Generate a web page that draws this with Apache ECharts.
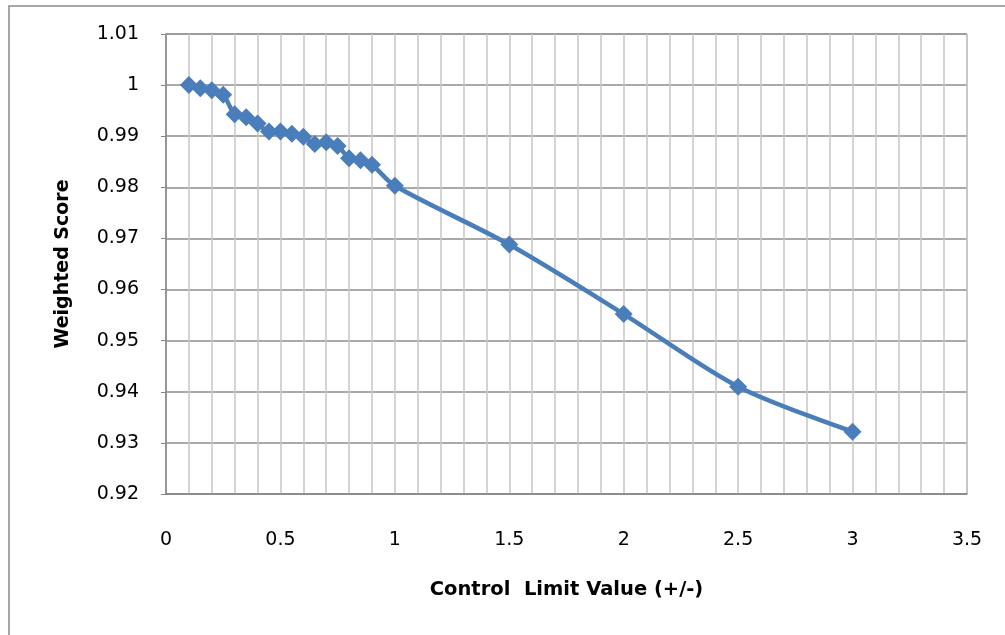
<!DOCTYPE html>
<html>
<head>
<meta charset="utf-8">
<title>Weighted Score vs Control Limit Value</title>
<script src="https://cdn.jsdelivr.net/npm/echarts@6/dist/echarts.min.js"></script>
<style>
  html, body { margin: 0; padding: 0; background: #ffffff; }
  #chart { width: 1005px; height: 635px; }
</style>
</head>
<body>
<div id="chart"></div>
<script>
// Control limit values (+/-) tested
const limits = [0.1, 0.15, 0.2, 0.25, 0.3, 0.35, 0.4, 0.45, 0.5, 0.55, 0.6,
                0.65, 0.7, 0.75, 0.8, 0.85, 0.9, 1.0, 1.5, 2.0, 2.5, 3.0];
// Weighted score obtained at each control limit
const scores = [1.0000, 0.9994, 0.9990, 0.9981, 0.9943, 0.9937, 0.9925, 0.9909,
                0.9909, 0.9905, 0.9899, 0.9885, 0.9888, 0.9881, 0.9857, 0.9853,
                0.9844, 0.9803, 0.9688, 0.9552, 0.9410, 0.9322];

const xTitle = 'Control  Limit Value (+/-)';
const yTitle = 'Weighted Score';

const FONT = '"DejaVu Sans", "Liberation Sans", sans-serif';
const points = limits.map((x, i) => [x, scores[i]]);

const chart = echarts.init(document.getElementById('chart'), null, { renderer: 'canvas' });

chart.setOption({
  backgroundColor: '#ffffff',
  animation: false,
  textStyle: { fontFamily: FONT },
  graphic: [{
    type: 'rect',
    shape: { x: 9, y: 6, width: 1010, height: 650 },
    style: { fill: 'none', stroke: '#8a8a8a', lineWidth: 1.5 },
    silent: true
  }],
  grid: { left: 166, right: 38, top: 34, bottom: 141, show: true, borderColor: '#9a9a9a', borderWidth: 1 },
  xAxis: {
    type: 'value',
    min: 0,
    max: 3.5,
    interval: 0.5,
    name: xTitle,
    nameLocation: 'middle',
    nameGap: 86,
    nameTextStyle: { fontFamily: FONT, fontSize: 19.5, fontWeight: 'bold', color: '#000' },
    axisLine: { show: true, lineStyle: { color: '#868686', width: 1.5 } },
    axisTick: { show: false },
    axisLabel: { margin: 37, fontSize: 19, color: '#000', fontFamily: FONT },
    splitLine: { show: true, lineStyle: { color: '#c6c6c6', width: 1.5 } },
    minorTick: { show: false, splitNumber: 5 },
    minorSplitLine: { show: true, lineStyle: { color: '#c6c6c6', width: 1.5 } }
  },
  yAxis: {
    type: 'value',
    min: 0.92,
    max: 1.01,
    interval: 0.01,
    name: yTitle,
    nameLocation: 'middle',
    nameRotate: 90,
    nameGap: 93,
    nameTextStyle: { fontFamily: FONT, fontSize: 19, fontWeight: 'bold', color: '#000' },
    axisLine: { show: true, lineStyle: { color: '#868686', width: 1.5 } },
    axisTick: { show: true, length: 5, lineStyle: { color: '#868686' } },
    axisLabel: {
      margin: 27,
      fontSize: 19,
      color: '#000',
      fontFamily: FONT,
      formatter: v => String(parseFloat(v.toFixed(2)))
    },
    splitLine: { show: true, lineStyle: { color: '#8c8c8c', width: 1.5 } }
  },
  series: [{
    type: 'line',
    data: points,
    smooth: 0.3,
    symbol: 'diamond',
    symbolSize: 18,
    itemStyle: { color: '#4a7ebb' },
    lineStyle: { color: '#4a7ebb', width: 4.5 }
  }]
});
</script>
</body>
</html>
